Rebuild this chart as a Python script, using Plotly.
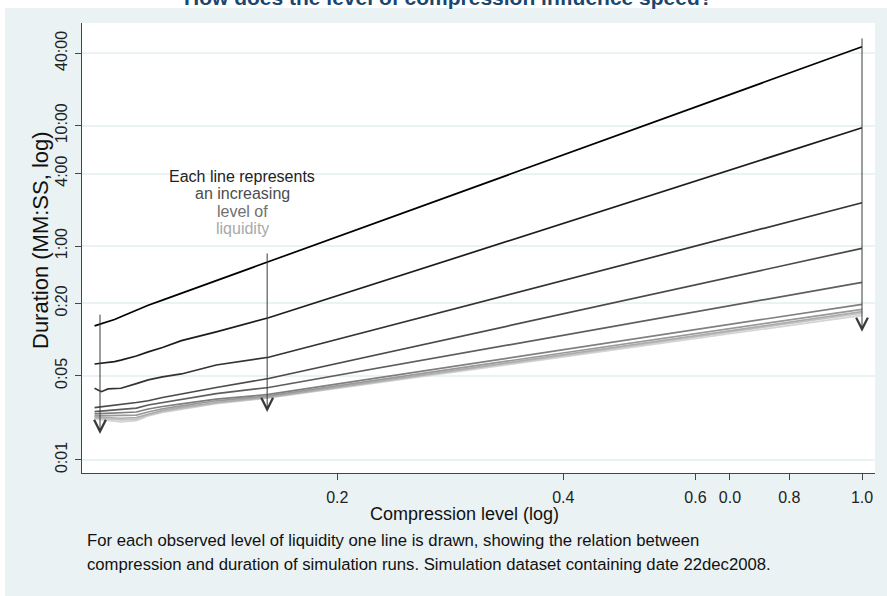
import plotly.graph_objects as go
import math

# ---------------- data ----------------
compression = [0.095, 0.097, 0.099, 0.101, 0.103, 0.108, 0.112, 0.117, 0.124, 0.138, 0.162, 1.0]

# duration in seconds, one series per observed liquidity level (low -> high)
liq1 = [13.0, 13.5, 14.1, 14.7, 15.5, 17.6, 19.3, 21.3, 24.3, 30.9, 44.4, 2720]
liq2 = [6.27, 6.35, 6.45, 6.55, 6.75, 7.31, 7.9, 8.6, 9.8, 11.6, 15.2, 577]
liq3 = [3.94, 3.69, 3.89, 3.90, 3.94, 4.30, 4.62, 4.90, 5.18, 6.15, 7.13, 137.4]
liq4 = [2.72, 2.76, 2.81, 2.86, 2.90, 3.00, 3.10, 3.30, 3.53, 4.00, 4.75, 57.4]
liq5 = [2.52, 2.55, 2.58, 2.60, 2.63, 2.69, 2.86, 3.00, 3.20, 3.55, 4.00, 29.9]
liq6 = [2.41, 2.42, 2.44, 2.45, 2.47, 2.50, 2.65, 2.78, 2.92, 3.20, 3.50, 19.65]
liq7 = [2.32, 2.33, 2.34, 2.35, 2.33, 2.36, 2.50, 2.66, 2.81, 3.10, 3.40, 17.86]
liq8 = [2.27, 2.26, 2.25, 2.24, 2.22, 2.25, 2.41, 2.58, 2.73, 3.00, 3.33, 17.06]
liq9 = [2.23, 2.21, 2.19, 2.17, 2.15, 2.18, 2.36, 2.52, 2.68, 2.97, 3.30, 16.55]
liq10 = [2.19, 2.16, 2.13, 2.10, 2.07, 2.12, 2.32, 2.48, 2.63, 2.93, 3.27, 15.9]

series = [liq1, liq2, liq3, liq4, liq5, liq6, liq7, liq8, liq9, liq10]
series_names = ["Liquidity %d" % (i + 1) for i in range(len(series))]

y_tick_vals = [1, 5, 20, 60, 240, 600, 2400]
y_tick_text = ["0:01", "0:05", "0:20", "1:00", "4:00", "10:00", "40:00"]
x_tick_vals = [0.2, 0.4, 0.6, 0.667, 0.8, 1.0]
x_tick_text = ["0.2", "0.4", "0.6", "0.0", "0.8", "1.0"]

# arrows: (x compression, tail seconds, head seconds)
arrows = [(0.0966, 16.6, 1.64), (0.1613, 53.5, 2.50), (1.0, 3280, 11.6)]

# ---------------- style ----------------
colors = ["#000000", "#1c1c1c", "#333333", "#4a4a4a", "#5e5e5e",
          "#7f7f7f", "#999999", "#adadad", "#c2c2c2", "#d4d4d4"]
FONT = "Arial, 'Liberation Sans', sans-serif"
BG = "#EAF2F3"
NAVY = "#1A476F"

fig = go.Figure()
# draw lightest first so darker lines sit on top
for i in reversed(range(len(series))):
    fig.add_trace(go.Scatter(
        x=compression, y=series[i], mode="lines", name=series_names[i],
        line=dict(color=colors[i], width=1.7), showlegend=False,
        hoverinfo="x+y+name"))

W, H = 887, 596
ML, MR, MT, MB = 82, 12, 23, 123
pw, ph = W - ML - MR, H - MT - MB

def px_x(p):
    return (p - ML) / pw

def px_y(p):
    return (H - MB - p) / ph

shapes = [
    dict(type="rect", xref="paper", yref="paper", x0=px_x(5), x1=px_x(W + 5),
         y0=px_y(H + 5), y1=px_y(8), fillcolor=BG, line=dict(width=0), layer="below"),
    dict(type="rect", xref="paper", yref="paper", x0=0, x1=1, y0=0, y1=1,
         fillcolor="white", line=dict(width=0), layer="below"),
]

annotations = []
for (ax_c, tail_s, head_s) in arrows:
    annotations.append(dict(
        x=math.log10(ax_c), y=math.log10(head_s), xref="x", yref="y",
        ax=math.log10(ax_c), ay=math.log10(tail_s), axref="x", ayref="y",
        text="", showarrow=True, arrowhead=5, arrowsize=2.3, arrowwidth=1,
        arrowcolor="#3a3a3a", standoff=0))

note_lines = [("Each line represents", "#222222", 176),
              ("an increasing", "#4d4d4d", 193.5),
              ("level of", "#707070", 211),
              ("liquidity", "#a8a8a8", 228.5)]
for txt, col, ypx in note_lines:
    annotations.append(dict(text=txt, x=px_x(242), y=px_y(ypx), xref="paper", yref="paper",
                            showarrow=False, xanchor="center", yanchor="middle",
                            font=dict(family=FONT, size=16, color=col)))

annotations.append(dict(text="<b>How does the level of compression influence speed?</b>",
                        x=px_x(448), y=px_y(-3), xref="paper", yref="paper",
                        showarrow=False, xanchor="center", yanchor="middle",
                        font=dict(family=FONT, size=21, color=NAVY)))
annotations.append(dict(text="Compression level (log)", x=px_x(464), y=px_y(514),
                        xref="paper", yref="paper", showarrow=False,
                        xanchor="center", yanchor="middle",
                        font=dict(family=FONT, size=18, color="#111111")))
annotations.append(dict(text="Duration (MM:SS, log)", x=px_x(40), y=px_y(240),
                        xref="paper", yref="paper", showarrow=False, textangle=-90,
                        xanchor="center", yanchor="middle",
                        font=dict(family=FONT, size=22, color="#111111")))
annotations.append(dict(text="For each observed level of liquidity one line is drawn, showing the relation between",
                        x=px_x(85), y=px_y(540), xref="paper", yref="paper", showarrow=False,
                        xanchor="left", yanchor="middle",
                        font=dict(family=FONT, size=16.7, color="#111111")))
annotations.append(dict(text="compression and duration of simulation runs. Simulation dataset containing date 22dec2008.",
                        x=px_x(85), y=px_y(564), xref="paper", yref="paper", showarrow=False,
                        xanchor="left", yanchor="middle",
                        font=dict(family=FONT, size=16.7, color="#111111")))

fig.update_layout(
    width=W, height=H,
    margin=dict(l=ML, r=MR, t=MT, b=MB, pad=0),
    paper_bgcolor="white", plot_bgcolor="white",
    font=dict(family=FONT, color="#222222"),
    shapes=shapes, annotations=annotations,
    xaxis=dict(type="log", range=[-1.039, 0.0173], showgrid=False, zeroline=False,
               tickvals=x_tick_vals, ticktext=x_tick_text,
               ticks="outside", ticklen=6, tickcolor="#444", tickwidth=1,
               showline=True, linecolor="#444", linewidth=1,
               tickfont=dict(family=FONT, size=16, color="#222222"),
               ticklabelstandoff=4),
    yaxis=dict(type="log", range=[-0.109, 3.632], showgrid=True, gridcolor=BG, gridwidth=1.5,
               zeroline=False, tickvals=y_tick_vals, ticktext=y_tick_text,
               ticks="outside", ticklen=6, tickcolor="#444", tickwidth=1,
               showline=True, linecolor="#444", linewidth=1, tickangle=-90,
               tickfont=dict(family=FONT, size=16, color="#222222"),
               ticklabelstandoff=2),
)

fig.write_html("out.html")
